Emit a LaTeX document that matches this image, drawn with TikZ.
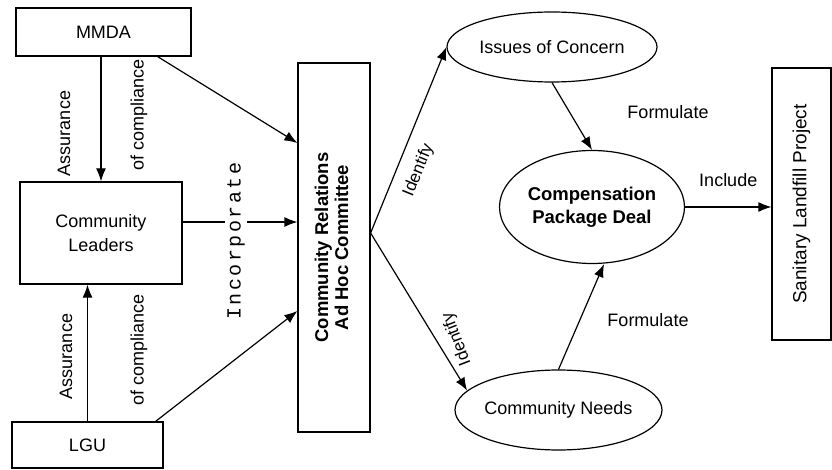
\documentclass[tikz,border=0pt]{standalone}
\usepackage{fontspec}
\setmainfont{Liberation Sans}
\newfontfamily\typefont{Liberation Mono}
\usetikzlibrary{arrows.meta,shapes.geometric}

\begin{document}
\begin{tikzpicture}[auto, x=1pt, y=-1pt, line width=1.2pt, >={Latex[length=13pt,width=10pt]},
    box/.style={draw, rectangle, inner sep=0pt, align=center, font=\fontsize{18}{24}\selectfont},
    oval/.style={draw, ellipse, inner xsep=-4pt, inner ysep=0pt, align=center, font=\fontsize{18}{22}\selectfont},
    lbl/.style={font=\fontsize{18}{22}\selectfont}]

    \useasboundingbox (0,0) rectangle (832,470);

    \node[box, minimum width=175pt, minimum height=48pt] (a) at (103.5, 32) {MMDA};
    \node[box, minimum width=151pt, minimum height=46pt] (b) at (87.5, 445) {LGU};
    \node[box, minimum width=162pt, minimum height=102pt] (c) at (101, 233) {Community\\Leaders};
    \node[box, minimum width=72pt, minimum height=369pt, font=\bfseries\fontsize{18.5}{20}\selectfont] (e) at (334, 247.5)
        {\rotatebox{90}{\begin{tabular}{@{}c@{}}Community Relations\\Ad Hoc Committee\end{tabular}}};
    \node[oval, minimum width=210pt, minimum height=70pt] (d) at (552, 47) {Issues of Concern};
    \node[oval, minimum width=207pt, minimum height=80pt] (f) at (558.5, 410) {Community Needs};
    \node[oval, minimum width=185pt, minimum height=113pt, font=\bfseries\fontsize{18.5}{23}\selectfont] (g) at (592, 207) {Compensation\\Package Deal};
    \node[box, minimum width=59pt, minimum height=272pt, font=\fontsize{19}{22}\selectfont] (h) at (801.5, 204) {\rotatebox{90}{Sanitary Landfill Project}};

    \draw [->] (c.north |- a.south) to (c.north);
    \draw [->] (b.north) to (b.north |- c.south);
    \draw [->] ([xshift=-34pt]a.south east) to ([yshift=104.5pt]e.west);
    \draw [->] ([yshift=11pt]c.east) to ([yshift=11pt]c.east -| e.west);
    \draw [->] ([xshift=-8pt]b.north east) to ([yshift=-63.5pt]e.west);
    \draw [->] ([yshift=14.5pt]e.east) to node[sloped, below=9pt, pos=0.38, font=\fontsize{17}{20}\selectfont] (j) {Identify} (d.west);
    \draw [->] ([yshift=14.5pt]e.east) to (f.168);
    \draw [->] (d.south) to (g.north);
    \draw [->] (f.north) to ([xshift=12pt]g.south);
    \draw [->] (g.east) to node[lbl, above=16pt] (k) {Include} (g.east -| h.west);

    \node[lbl, rotate=90] (l1) at (64, 133.5) {Assurance};
    \node[lbl, rotate=90] (l2) at (139, 115) {of compliance};
    \node[lbl, rotate=90] (l3) at (66, 356.5) {Assurance};
    \node[lbl, rotate=90] (l4) at (139, 350) {of compliance};
    \node[lbl] (m1) at (668, 112) {Formulate};
    \node[lbl] (m2) at (648, 320) {Formulate};
    \node[rotate=111, font=\fontsize{17}{20}\selectfont] (n) at (457, 339) {Identify};
    \node[rotate=90, fill=white, inner sep=2pt, font=\typefont\fontsize{20}{24}\selectfont] (o) at (236, 241)
        {\spaceskip=2.5pt\relax I n c o r p o r a t e};

\end{tikzpicture}
\end{document}
